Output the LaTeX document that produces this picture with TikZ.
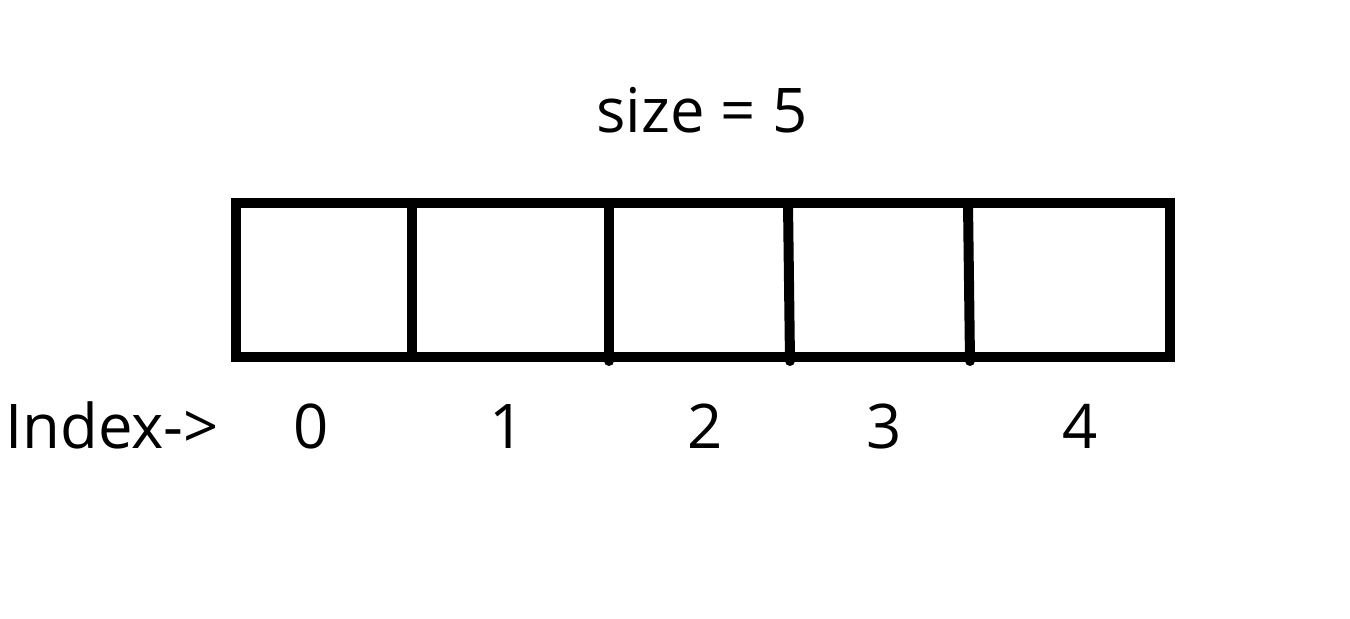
\documentclass[tikz,border=0pt]{standalone}
\usepackage{fontspec}
\setmainfont{Open Sans}
\begin{document}
\begin{tikzpicture}[x=0.5pt,y=-0.5pt,
  lbl/.style={font=\fontsize{30.8pt}{36pt}\selectfont, anchor=base, inner sep=0pt},
  cellline/.style={line width=5pt, black},
  arr/.style={cellline, line cap=rect}]
\useasboundingbox (0,0) rectangle (1350,619);
% array outline
\coordinate (tl) at (236,203);
\coordinate (br) at (1170,357);
\draw[arr] (tl) rectangle (br);
% dividers
\coordinate (d1t) at (412,203); \coordinate (d1b) at (412,357);
\coordinate (d2t) at (609,203); \coordinate (d2b) at (609,361);
\coordinate (d3t) at (788,203); \coordinate (d3b) at (790,361);
\coordinate (d4t) at (968,203); \coordinate (d4b) at (970,361);
\draw[cellline, line cap=round] (d1t) -- (d1b);
\draw[cellline, line cap=round] (d2t) -- (d2b);
\draw[cellline, line cap=round] (d3t) -- (d3b);
\draw[cellline, line cap=round] (d4t) -- (d4b);
% labels
\node[lbl] (size) at (702,133) {size = 5};
\node[lbl, anchor=base west] (index) at (5,449) {Index->};
\node[lbl] (i0) at (311,449) {0};
\node[lbl] (i1) at (507,449) {1};
\node[lbl] (i2) at (705,449) {2};
\node[lbl] (i3) at (884,449) {3};
\node[lbl] (i4) at (1080,449) {4};
\end{tikzpicture}
\end{document}
